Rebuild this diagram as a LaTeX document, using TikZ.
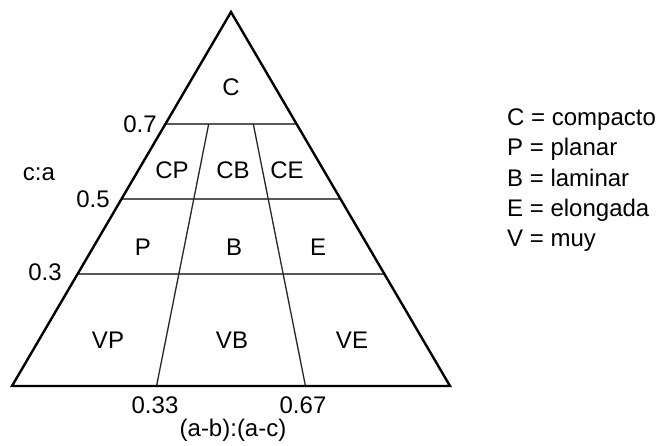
\documentclass[tikz,border=0pt]{standalone}
\usepackage{fontspec}
\setmainfont{Liberation Sans}
\usetikzlibrary{calc}
\begin{document}
\begin{tikzpicture}[x=1pt,y=-1pt,
  outer/.style={line width=2.4pt, line join=miter},
  hline/.style={line width=1.8pt, draw=black!65},
  vline/.style={line width=1.3pt, draw=black!85},
  lab/.style={anchor=base, inner sep=0pt, font=\fontsize{24}{28}\selectfont},
  leg/.style={anchor=base west, inner sep=0pt, font=\fontsize{24}{28}\selectfont}]
\fill[white] (0,0) rectangle (671,445);
\useasboundingbox (0,0) rectangle (671,445);
% triangle vertices
\coordinate (A) at (231,12);
\coordinate (BL) at (12,386);
\coordinate (BR) at (450,386);
% horizontal line ends
\coordinate (L7) at ($(BL)!0.7!(A)$);
\coordinate (R7) at ($(BR)!0.7!(A)$);
\coordinate (L5) at ($(BL)!0.5!(A)$);
\coordinate (R5) at ($(BR)!0.5!(A)$);
\coordinate (L3) at ($(BL)!0.3!(A)$);
\coordinate (R3) at ($(BR)!0.3!(A)$);
% divider ends
\coordinate (D1t) at ($(L7)!0.33!(R7)$);
\coordinate (D2t) at ($(L7)!0.67!(R7)$);
\coordinate (D1b) at ($(BL)!0.33!(BR)$);
\coordinate (D2b) at ($(BL)!0.67!(BR)$);
% inner lines
\draw[hline] (L7) -- (R7);
\draw[hline] (L5) -- (R5);
\draw[hline] (L3) -- (R3);
\draw[vline] (D1t) -- (D1b);
\draw[vline] (D2t) -- (D2b);
% outline
\draw[outer] (A) -- (BR) -- (BL) -- cycle;
% region labels
\node[lab] (c) at (231,95.5) {C};
\node[lab] (cp) at (172,178) {CP};
\node[lab] (cb) at (233,178) {CB};
\node[lab] (ce) at (287,178) {CE};
\node[lab] (p) at (143,255) {P};
\node[lab] (b) at (234,255) {B};
\node[lab] (e) at (318,255) {E};
\node[lab] (vp) at (108,348) {VP};
\node[lab] (vb) at (232,348) {VB};
\node[lab] (ve) at (352,348) {VE};
% axis labels
\node[lab] (n7) at (140,132) {0.7};
\node[lab] (n5) at (93,207) {0.5};
\node[lab] (n3) at (45,280) {0.3};
\node[lab] (ca) at (39,180) {c:a};
\node[lab] (n33) at (155,413) {0.33};
\node[lab] (n67) at (303,413) {0.67};
\node[lab] (ab) at (233,436) {(a-b):(a-c)};
% legend
\node[leg] (l1) at (507,125.7) {C = compacto};
\node[leg] (l2) at (507,155.7) {P = planar};
\node[leg] (l3) at (507,186) {B = laminar};
\node[leg] (l4) at (507,216) {E = elongada};
\node[leg] (l5) at (507,246) {V = muy};
\end{tikzpicture}
\end{document}
